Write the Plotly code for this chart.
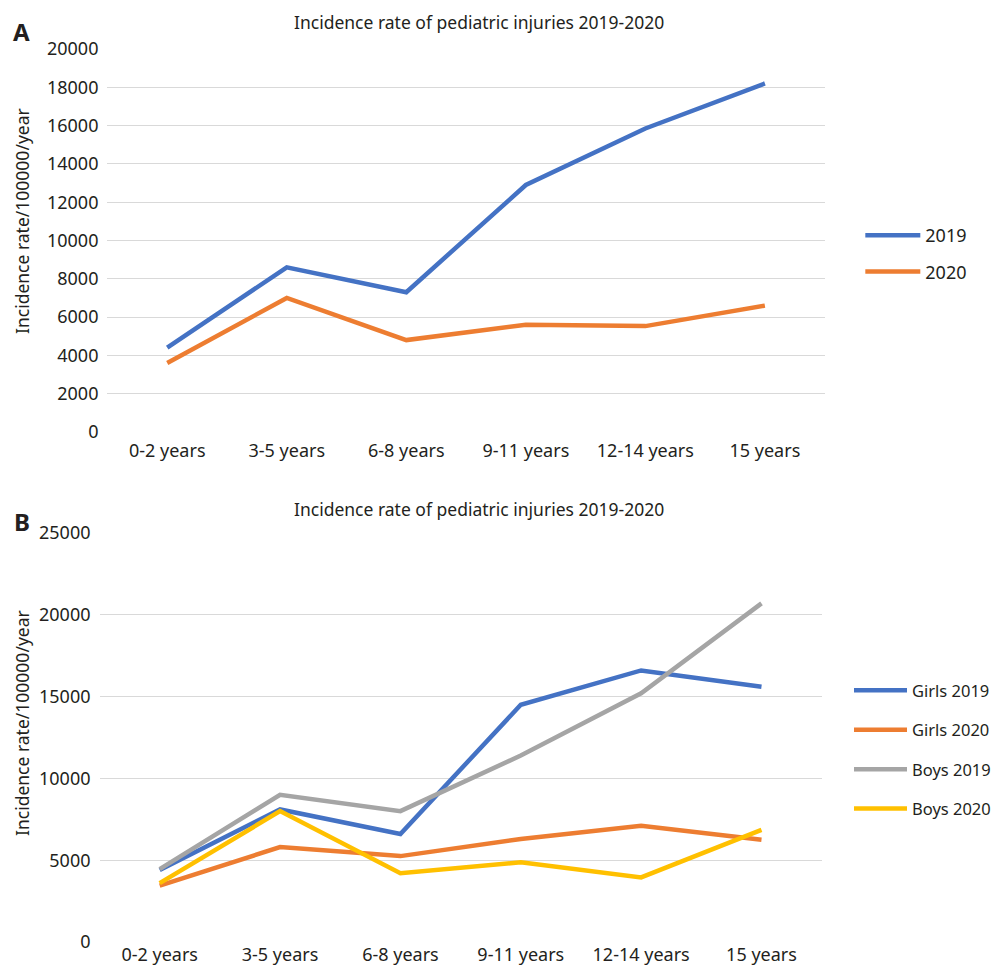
import plotly.graph_objects as go

categories = ["0-2 years", "3-5 years", "6-8 years", "9-11 years", "12-14 years", "15 years"]

# Panel A
total_2019 = [4400, 8600, 7300, 12900, 15850, 18200]
total_2020 = [3600, 7000, 4800, 5600, 5530, 6600]

# Panel B
girls_2019 = [4400, 8100, 6600, 14500, 16600, 15600]
girls_2020 = [3450, 5800, 5250, 6300, 7100, 6250]
boys_2019 = [4450, 9000, 8000, 11400, 15200, 20700]
boys_2020 = [3600, 8000, 4200, 4870, 3950, 6850]

title_text = "Incidence rate of pediatric injuries 2019-2020"
ytitle = "Incidence rate/100000/year"

BLUE = "#4472C4"
ORANGE = "#ED7D31"
GRAY = "#A5A5A5"
YELLOW = "#FFC000"
FONT = "Noto Sans"
TXT = "#231F20"

OFF = 8       # page body margin
SX = 0.987    # observed horizontal scale of the capture
W, H = 1004 - 2 * OFF, 973 - 2 * OFF

fig = go.Figure()

def add(x, y, name, color, xa, ya, legend, group):
    fig.add_trace(go.Scatter(
        x=x, y=y, name=name, mode="lines",
        line=dict(color=color, width=4.5, shape="linear"),
        xaxis=xa, yaxis=ya, legend=legend, legendgroup=group,
    ))

add(categories, total_2019, "2019", BLUE, "x", "y", "legend", "a1")
add(categories, total_2020, "2020", ORANGE, "x", "y", "legend", "a2")
add(categories, girls_2019, "Girls 2019", BLUE, "x2", "y2", "legend2", "b1")
add(categories, girls_2020, "Girls 2020", ORANGE, "x2", "y2", "legend2", "b2")
add(categories, boys_2019, "Boys 2019", GRAY, "x2", "y2", "legend2", "b3")
add(categories, boys_2020, "Boys 2020", YELLOW, "x2", "y2", "legend2", "b4")

def fig_x(v):
    return (v - OFF) / SX

def px_x(v):
    return fig_x(v) / W

def px_y(v):
    return 1 - (v - OFF) / H

grid = "#D9D9D9"
tickfont = dict(family=FONT, size=18, color=TXT)

common_x = dict(type="category", range=[-0.5, 5.5], showgrid=False, showline=False,
                ticks="", tickfont=tickfont, automargin=False, zeroline=False)
common_y = dict(showgrid=True, gridcolor=grid, gridwidth=1.3, zeroline=False,
                showline=False, ticks="", tickfont=tickfont, tickformat="d",
                ticklabelstandoff=8, automargin=False)

fig.update_layout(
    template="none",
    width=W, height=H,
    margin=dict(l=0, r=0, t=0, b=0, pad=0),
    autosize=False,
    paper_bgcolor="white", plot_bgcolor="white",
    font=dict(family=FONT, color=TXT),
    xaxis=dict(domain=[px_x(108), px_x(829)], anchor="y", ticklabelstandoff=6, **common_x),
    yaxis=dict(domain=[px_y(432), px_y(49)], anchor="x", range=[0, 20000],
               dtick=2000, **common_y),
    xaxis2=dict(domain=[px_x(100), px_x(826)], anchor="y2", ticklabelstandoff=0, **common_x),
    yaxis2=dict(domain=[px_y(942), px_y(533)], anchor="x2", range=[0, 25000],
                dtick=5000, **common_y),
    legend=dict(x=(fig_x(929) - 65) / W, y=px_y(217), xanchor="left", yanchor="top",
                font=dict(family=FONT, size=18, color=TXT), itemwidth=55,
                tracegroupgap=10, bgcolor="rgba(0,0,0,0)", borderwidth=0),
    legend2=dict(x=(fig_x(916) - 63) / W, y=px_y(673), xanchor="left", yanchor="top",
                 font=dict(family=FONT, size=16.5, color=TXT), itemwidth=53,
                 tracegroupgap=15, bgcolor="rgba(0,0,0,0)", borderwidth=0),
    showlegend=True,
)

annotations = [
    dict(text=title_text, x=px_x(482), y=1.0, yanchor="top", font=dict(size=17.5)),
    dict(text=title_text, x=px_x(482), y=px_y(509), font=dict(size=17.5)),
    dict(text="<b>A</b>", x=px_x(22), y=px_y(31), font=dict(size=24)),
    dict(text="<b>B</b>", x=px_x(22), y=px_y(521), font=dict(size=24)),
    dict(text=ytitle, x=0.0, xanchor="left", y=px_y(221), textangle=-90, font=dict(size=17.5)),
    dict(text=ytitle, x=0.0, xanchor="left", y=px_y(723), textangle=-90, font=dict(size=17.5)),
]
for a in annotations:
    a.setdefault("yanchor", "middle")
    a.setdefault("xanchor", "center")
    a.update(xref="paper", yref="paper", showarrow=False)
    a["font"].update(family=FONT, color=TXT)
fig.update_layout(annotations=annotations)

fig.write_html("out.html")
